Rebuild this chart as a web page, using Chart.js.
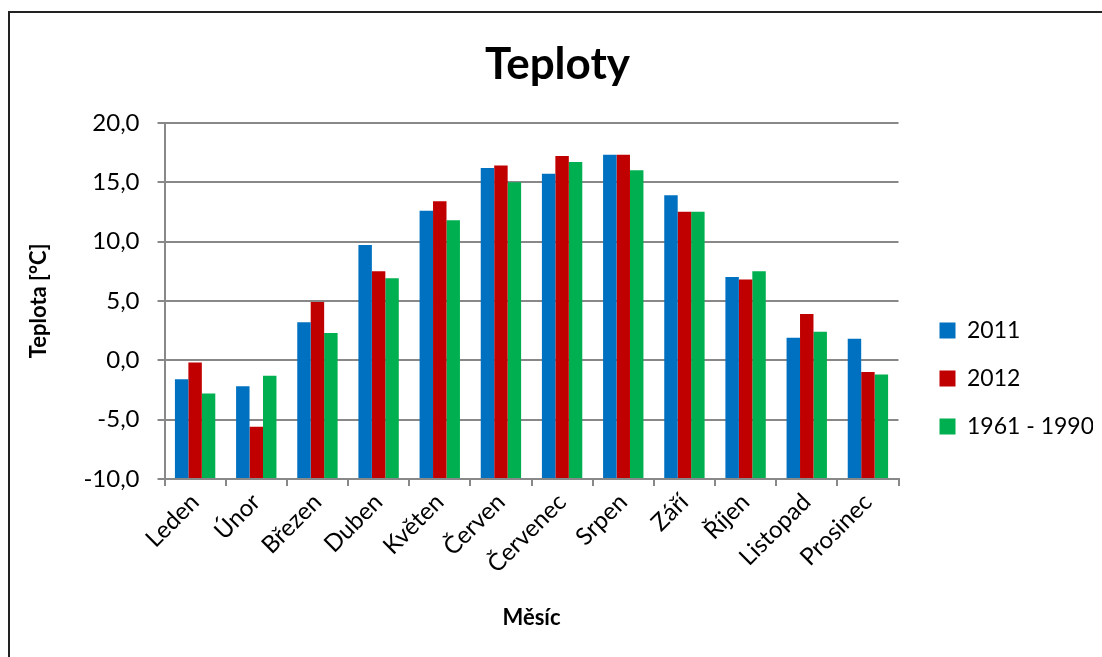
<!DOCTYPE html>
<html>
<head>
<meta charset="utf-8">
<script src="https://cdn.jsdelivr.net/npm/chart.js@4.4.0/dist/chart.umd.min.js"></script>
<style>
    html, body { margin: 0; padding: 0; background: #fff; }
    #frame {
        position: absolute; left: 8px; top: 11px; width: 1200px; height: 700px;
        border: 2px solid #222; box-sizing: border-box;
    }
    #wrap { position: absolute; left: 0; top: 0; width: 1102px; height: 657px; }
</style>
</head>
<body>
<div id="frame"></div>
<div id="wrap"><canvas id="teplotyChart"></canvas></div>
<script>
const months = ['Leden', 'Únor', 'Březen', 'Duben', 'Květen', 'Červen', 'Červenec', 'Srpen', 'Září', 'Říjen', 'Listopad', 'Prosinec'];
const temps2011 = [-1.6, -2.2, 3.2, 9.7, 12.6, 16.2, 15.7, 17.3, 13.9, 7.0, 1.9, 1.8];
const temps2012 = [-0.2, -5.6, 4.9, 7.5, 13.4, 16.4, 17.2, 17.3, 12.5, 6.8, 3.9, -1.0];
const tempsNormal = [-2.8, -1.3, 2.3, 6.9, 11.8, 15.0, 16.7, 16.0, 12.5, 7.5, 2.4, -1.2];
const seriesNames = ['2011', '2012', '1961 - 1990'];

document.addEventListener("DOMContentLoaded", function () {
    const chartElement = document.getElementById('teplotyChart');
    const ctx = chartElement.getContext('2d');
    const font = "Lato, 'Open Sans', sans-serif";
    const grid = '#888888';

    new Chart(ctx, {
        type: 'bar',
        data: {
            labels: months,
            datasets: [
                { label: seriesNames[0], data: temps2011, backgroundColor: '#0070C0', base: -10 },
                { label: seriesNames[1], data: temps2012, backgroundColor: '#C00000', base: -10 },
                { label: seriesNames[2], data: tempsNormal, backgroundColor: '#00B050', base: -10 }
            ]
        },
        options: {
            responsive: true,
            maintainAspectRatio: false,
            animation: false,
            events: [],
            categoryPercentage: 0.66,
            barPercentage: 1.0,
            layout: { padding: { left: 22, right: 9, top: 38, bottom: 22 } },
            plugins: {
                title: {
                    display: true,
                    text: 'Teploty',
                    color: '#000',
                    font: { family: font, size: 44, weight: 'bold' },
                    padding: { top: 0, bottom: 32 }
                },
                legend: {
                    display: true,
                    position: 'right',
                    title: { display: true, text: ' ', font: { size: 10 }, padding: { top: 72, bottom: 0 } },
                    labels: {
                        color: '#000',
                        font: { family: font, size: 23 },
                        boxWidth: 16,
                        boxHeight: 16,
                        padding: 25
                    }
                },
                tooltip: { enabled: false }
            },
            scales: {
                x: {
                    grid: { display: true, drawOnChartArea: false, color: grid, lineWidth: 2, tickLength: 7, offset: true },
                    border: { color: grid, width: 2 },
                    ticks: {
                        color: '#000',
                        font: { family: font, size: 24 },
                        minRotation: 45,
                        maxRotation: 45,
                        autoSkip: false,
                        padding: 2
                    },
                    title: {
                        display: true,
                        text: 'Měsíc',
                        color: '#000',
                        font: { family: font, size: 22, weight: 'bold' },
                        padding: { top: 24 }
                    }
                },
                y: {
                    min: -10,
                    max: 20,
                    grid: { color: grid, lineWidth: 2, tickLength: 7 },
                    border: { color: grid, width: 2 },
                    ticks: {
                        stepSize: 5,
                        color: '#000',
                        font: { family: font, size: 24 },
                        padding: 18,
                        callback: value => value.toFixed(1).replace('.', ',')
                    },
                    title: {
                        display: true,
                        text: 'Teplota [°C]',
                        color: '#000',
                        font: { family: font, size: 22, weight: 'bold' },
                        padding: { bottom: 13 }
                    }
                },
                // empty spacer between plot and legend
                gap: {
                    type: 'linear',
                    position: 'right',
                    display: true,
                    grid: { display: false },
                    border: { display: false },
                    ticks: { display: false },
                    afterFit: scale => { scale.width = 16; }
                }
            }
        }
    });
});
</script>
</body>
</html>
